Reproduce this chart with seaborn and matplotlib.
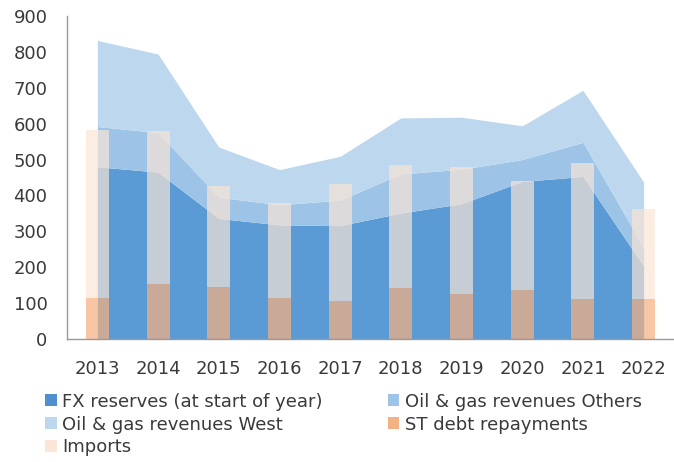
import matplotlib
matplotlib.use("Agg")
import matplotlib.pyplot as plt
import seaborn as sns
import numpy as np
import pandas as pd
from matplotlib.patches import Patch

years = ["2013", "2014", "2015", "2016", "2017", "2018", "2019", "2020", "2021", "2022"]
fx_reserves = [480, 465, 336, 318, 316, 351, 377, 439, 453, 203]
oil_gas_others = [112, 110, 59, 56, 71, 109, 96, 61, 95, 52]
oil_gas_west = [240, 219, 140, 98, 122, 156, 145, 94, 145, 182]
st_debt = [114, 153, 145, 114, 105, 141, 126, 137, 111, 111]
imports = [469, 427, 280, 266, 328, 344, 353, 302, 379, 251]
yticks = [0, 100, 200, 300, 400, 500, 600, 700, 800, 900]

labels = ["FX reserves (at start of year)", "Oil & gas revenues Others",
          "Oil & gas revenues West", "ST debt repayments", "Imports"]
c_fx = "#5B9BD5"
c_oth = "#9DC3E6"
c_west = "#BDD7EE"
c_debt = "#F4B183"
c_imp = "#FBE5D6"

sns.set_theme(style="white")
plt.rcParams["font.family"] = ["DejaVu Sans"]
text_color = "#3a3a3a"

fig = plt.figure(figsize=(6.74, 4.62), dpi=100)
ax = fig.add_axes([0.0994, 0.2662, 0.9006, 0.6992])

df = pd.DataFrame({"year": years, "debt": st_debt, "imports": imports})
xpos = np.arange(len(years))

ax.stackplot(xpos, fx_reserves, oil_gas_others, oil_gas_west,
             colors=[c_fx, c_oth, c_west], linewidth=0, zorder=1)

sns.barplot(data=df, x="year", y="debt", color=c_debt, width=0.38,
            alpha=0.72, saturation=1, linewidth=0, ax=ax, zorder=2)
ax.bar(xpos, df["imports"], bottom=df["debt"], width=0.38, color=c_imp,
       alpha=0.68, linewidth=0, zorder=2)

ax.set_xlim(-0.5, 9.5)
ax.set_ylim(0, 900)
ax.set_yticks(yticks)
ax.set_xlabel("")
ax.set_ylabel("")
ax.set_xticks(xpos)
ax.set_xticklabels(years)
ax.set_xticks(np.arange(-0.5, 10, 1.0), minor=True)
ax.tick_params(axis="x", which="major", length=0, pad=15, labelsize=13, colors=text_color)
ax.tick_params(axis="x", which="minor", length=6, width=1, color="#999999", direction="out")
ax.tick_params(axis="y", length=0, pad=14, labelsize=13, colors=text_color)
for s in ["top", "right"]:
    ax.spines[s].set_visible(False)
for s in ["left", "bottom"]:
    ax.spines[s].set_color("#999999")
    ax.spines[s].set_linewidth(1)
ax.grid(False)

handles = [Patch(facecolor=c, edgecolor="none") for c in ["#4F8FCF", c_oth, c_west, c_debt, c_imp]]
order = [0, 2, 4, 1, 3]
fig.legend([handles[i] for i in order], [labels[i] for i in order],
           loc="upper left", bbox_to_anchor=(0.0668, 0.150), ncol=2,
           frameon=False, fontsize=13, handlelength=0.65, handleheight=0.65,
           handletextpad=0.3, columnspacing=3.6, labelspacing=0.27,
           borderpad=0, borderaxespad=0, labelcolor=text_color)

fig.savefig("out.png", dpi=100)
